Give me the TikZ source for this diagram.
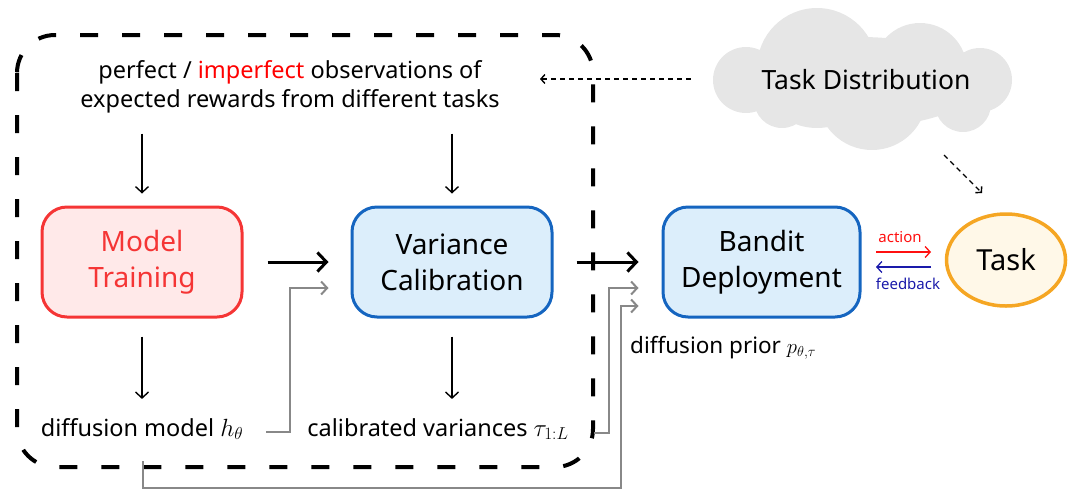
\documentclass[tikz,border=0pt]{standalone}
\usepackage[no-math]{fontspec}
\setmainfont{Noto Sans}
\usetikzlibrary{arrows.meta,shapes.geometric,calc}

\definecolor{stagered}{HTML}{F53535}
\definecolor{stageredfill}{HTML}{FFE9E9}
\definecolor{stageblue}{HTML}{1565C0}
\definecolor{stagebluefill}{HTML}{DCEEFB}
\definecolor{taskline}{HTML}{F5A623}
\definecolor{taskfill}{HTML}{FFF8E8}
\definecolor{cloudgray}{HTML}{E6E6E6}
\definecolor{linkgray}{HTML}{888888}
\definecolor{actred}{HTML}{FF1010}
\definecolor{fbblue}{HTML}{1A1AAA}

\tikzset{
  stage/.style={rounded corners=25pt, line width=3pt, minimum width=200pt,
    minimum height=110pt, align=center, inner sep=0pt,
    font=\fontsize{28}{36}\selectfont},
  redstage/.style={stage, draw=stagered, fill=stageredfill, text=stagered},
  bluestage/.style={stage, draw=stageblue, fill=stagebluefill},
  lbl/.style={font=\fontsize{23.5}{29}\selectfont, align=center, inner sep=0pt},
  small/.style={font=\fontsize{15}{17}\selectfont, inner sep=0pt},
  thinarr/.style={-{Straight Barb[length=6pt,width=13pt]}, line width=1.4pt},
  thickarr/.style={-{Straight Barb[length=9pt,width=19pt]}, line width=3pt},
  grayarr/.style={draw=linkgray, line width=2pt,
    -{Straight Barb[length=6pt,width=13pt]}},
  dasharr/.style={line width=1.4pt, dash pattern=on 5pt off 4pt,
    -{Straight Barb[length=4pt,width=9pt]}},
  flowarr/.style={line width=1.3pt, -{Straight Barb[length=5pt,width=11pt]}}
}

\begin{document}
\begin{tikzpicture}[x=1pt,y=-1pt]
\useasboundingbox (0,0) rectangle (1068,491);

% training loop frame
\draw[line width=4pt, dash pattern=on 18pt off 24pt, rounded corners=38pt]
  (17,35) rectangle (593,467);

% task distribution cloud, built from overlapping puffs
\fill[cloudgray]
  (860,82) ellipse [x radius=120pt, y radius=45pt]
  (746,80) circle [radius=33pt]
  (817,68) circle [radius=60pt]
  (920,70) circle [radius=47pt]
  (980,80) circle [radius=32pt]
  (782,100) circle [radius=28pt]
  (872,95) circle [radius=55pt]
  (963,104) circle [radius=28pt];
\node[ellipse, minimum width=300pt, minimum height=142pt, inner sep=0pt] (dist)
  at (863,79) {};
\node[font=\fontsize{26.5}{30}\selectfont, inner sep=0pt] (distlabel) at (866,80)
  {Task Distribution};

% stages
\node[redstage]  (train)  at (142,262)   {Model\\Training};
\node[bluestage] (calib)  at (452,262)   {Variance\\Calibration};
\node[bluestage, minimum width=197pt] (bandit) at (761.5,262) {Bandit\\Deployment};
\node[ellipse, draw=taskline, fill=taskfill, line width=3.5pt,
  minimum width=119pt, minimum height=92pt, inner sep=0pt,
  font=\fontsize{29}{32}\selectfont] (task) at (1006,260) {Task};

% texts
\node[lbl] (obs) at (290,87)
  {perfect / \textcolor{red}{imperfect} observations of\\expected rewards from different tasks};
\node[lbl] (hmod) at (142,429) {diffusion model $h_\theta$};
\node[lbl] (tau)  at (438,429) {calibrated variances $\tau_{1:L}$};
\node[lbl, font=\fontsize{22.5}{28}\selectfont, anchor=west] (prior) at (630,348)
  {diffusion prior $p_{\theta,\tau}$};

% data flow inside the frame
\draw[thinarr, shorten <=20pt, shorten >=12pt] (obs.south -| train.north) -- (train.north);
\draw[thinarr, shorten <=20pt, shorten >=12pt] (obs.south -| calib.north) -- (calib.north);
\draw[thinarr, shorten <=18pt, shorten >=19pt] (train.south) -- (train.south |- hmod.north);
\draw[thinarr, shorten <=18pt, shorten >=19pt] (calib.south) -- (calib.south |- hmod.north);

\draw[thickarr, shorten <=24pt, shorten >=22pt] (train.east) -- (calib.west);
\draw[thickarr, shorten <=23pt, shorten >=23pt] (calib.east) -- (bandit.west);

% outputs handed to the next stages
\coordinate (h1) at (266,432);
\coordinate (h2) at (143,461);
\coordinate (t1) at (594,433);
\draw[grayarr] (h1) -- (290,432) |- ($(calib.west)+(-22,26)$);
\draw[grayarr] (t1) -- (609,433) |- ($(bandit.west)+(-23,26)$);
\draw[grayarr] (h2) -- (143,488) -- (621,488) |- ($(bandit.west)+(-23,44)$);

% task sampling
\coordinate (o1) at (540,79);
\draw[dasharr, shorten <=22pt] (dist.west) -- (o1);
\coordinate (d1) at (944,155);
\coordinate (d2) at (982,193);
\draw[dasharr] (d1) -- (d2);

% interaction with the task
\coordinate (a1) at (876,252);
\coordinate (a2) at (931,252);
\coordinate (f1) at (931,267);
\coordinate (f2) at (876,267);
\draw[flowarr, draw=actred] (a1) -- (a2);
\draw[flowarr, draw=fbblue] (f1) -- (f2);
\node[small, text=actred] (act) at (900,237) {action};
\node[small, text=fbblue] (fb) at (908,284) {feedback};
\end{tikzpicture}
\end{document}
